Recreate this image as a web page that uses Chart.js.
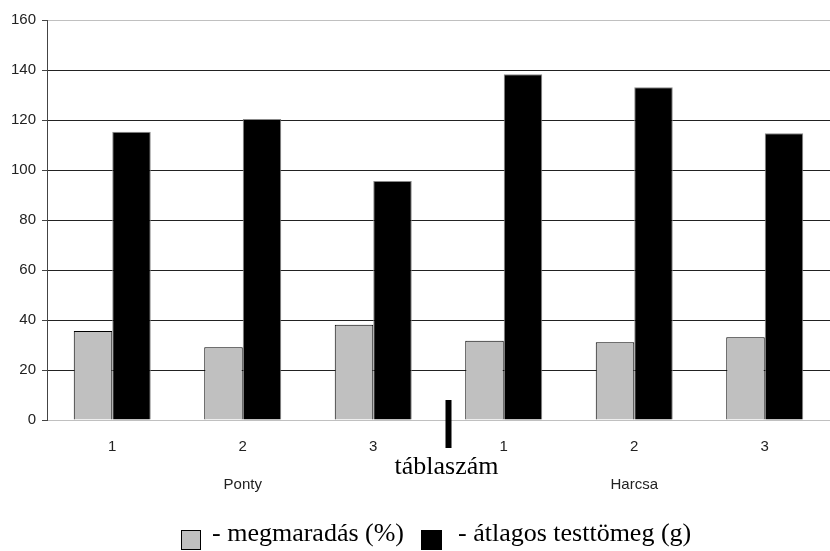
<!DOCTYPE html>
<html>
<head>
<meta charset="utf-8">
<script src="https://cdn.jsdelivr.net/npm/chart.js@4"></script>
<style>
  body { margin: 0; background: #fff; }
  canvas { display: block; }
</style>
</head>
<body>
<canvas id="chart" width="830" height="551"></canvas>
<script>
const categories = ['1', '2', '3', '1', '2', '3'];
const groups = ['Ponty', 'Harcsa'];
const survival = [35.6, 29.1, 38.1, 31.7, 31.1, 33.1];
const weight = [115.3, 120.4, 95.6, 138.3, 133.1, 114.7];
const axisTitle = 'táblaszám';
const legendLabels = ['- megmaradás (%)', '- átlagos testtömeg (g)'];

const sansFont = '"Liberation Sans", Arial, sans-serif';
const serifFont = '"Liberation Serif", "Times New Roman", serif';

const extras = {
  id: 'extras',
  afterDraw(chart) {
    const ctx = chart.ctx;
    const x = chart.scales.x;
    const y = chart.scales.y;
    const bottom = chart.chartArea.bottom;
    ctx.save();

    // small black separator between the two groups
    const sep = (x.getPixelForValue(2) + x.getPixelForValue(3)) / 2 + 10;
    ctx.fillStyle = '#000';
    ctx.fillRect(sep - 3, y.getPixelForValue(8), 6, bottom + 28 - y.getPixelForValue(8));

    // group labels
    ctx.font = '15px ' + sansFont;
    ctx.fillStyle = '#222';
    ctx.textAlign = 'center';
    ctx.textBaseline = 'alphabetic';
    groups.forEach((g, i) => {
      const cx = (x.getPixelForValue(i * 3) + x.getPixelForValue(i * 3 + 2)) / 2;
      ctx.fillText(g, cx, bottom + 69);
    });

    // axis title
    ctx.font = '26px ' + serifFont;
    ctx.fillStyle = '#000';
    ctx.fillText(axisTitle, sep - 2, bottom + 54);

    // legend
    ctx.textAlign = 'left';
    ctx.fillStyle = '#c0c0c0';
    ctx.fillRect(181.5, 530.5, 19, 19);
    ctx.strokeStyle = '#000';
    ctx.lineWidth = 1;
    ctx.strokeRect(181.5, 530.5, 19, 19);
    ctx.fillStyle = '#000';
    ctx.fillText(legendLabels[0], 212, 541);
    ctx.fillRect(421, 530, 21, 20);
    ctx.fillText(legendLabels[1], 458, 541);
    ctx.restore();
  }
};

new Chart(document.getElementById('chart'), {
  type: 'bar',
  data: {
    labels: categories,
    datasets: [
      {
        label: legendLabels[0],
        data: survival,
        backgroundColor: '#c0c0c0',
        borderColor: '#000',
        borderWidth: 1,
        barPercentage: 1,
        categoryPercentage: 0.59
      },
      {
        label: legendLabels[1],
        data: weight,
        backgroundColor: '#000',
        borderColor: '#888',
        borderWidth: 1,
        barPercentage: 1,
        categoryPercentage: 0.59
      }
    ]
  },
  options: {
    responsive: false,
    animation: false,
    layout: { padding: { top: 20, right: 0, left: 0, bottom: 0 } },
    plugins: {
      legend: { display: false },
      tooltip: { enabled: false }
    },
    scales: {
      x: {
        grid: { display: false, drawTicks: false },
        border: { display: false },
        ticks: { color: '#222', font: { family: sansFont, size: 15 }, padding: 18 },
        afterFit(scale) { scale.height = 131; }
      },
      y: {
        min: 0,
        max: 160,
        ticks: { stepSize: 20, color: '#222', font: { family: sansFont, size: 15 }, padding: 6 },
        grid: {
          color: c => (c.tick.value === 0 || c.tick.value === 160) ? '#c0c0c0' : '#222',
          tickColor: '#444',
          tickLength: 5
        },
        border: { display: true, color: '#444' },
        afterFit(scale) { scale.width = 47; }
      }
    }
  },
  plugins: [extras]
});
</script>
</body>
</html>
